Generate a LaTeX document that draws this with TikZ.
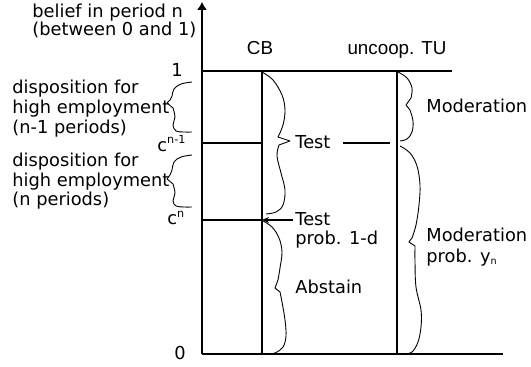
\documentclass[tikz,border=0pt]{standalone}
\usepackage{fontspec}
\setmainfont{DejaVu Sans}
\newfontfamily\headfont{Liberation Sans}
\usetikzlibrary{arrows.meta}
\newcommand{\supsm}[1]{\textsuperscript{\fontsize{5.6}{6}\selectfont #1}}
\newcommand{\subsm}[1]{\textsubscript{\fontsize{4.8}{5}\selectfont #1}}

\begin{document}
    \begin{tikzpicture}[x=.5pt, y=-.5pt,
            every node/.style={inner sep=0pt, font=\fontsize{8.9}{10}\selectfont},
            head/.style={font=\headfont\fontsize{9.4}{11}\selectfont},
            txt/.style={anchor=base west},
            axisline/.style={line width=.6pt},
            bracepath/.style={line width=.45pt, line join=round}]
        \useasboundingbox (0,0) rectangle (531,367);

        \begin{scope}
            \coordinate (o) at (202,354);
            \coordinate (top) at (202,2);
            \coordinate (one) at (202,71);
            \coordinate (cnm) at (202,143);
            \coordinate (cn) at (202,220);
            \coordinate (oneR) at (452,71);
            \coordinate (oR) at (503,354);
            \coordinate (cbT) at (262,71);
            \coordinate (cbB) at (262,354);
            \coordinate (tuT) at (397,71);
            \coordinate (tuB) at (397,354);

            \draw[axisline, -{Latex[length=4pt,width=5pt]}] (o) -- (top);
            \draw[axisline] (o) -- (oR);
            \draw[axisline] (one) -- (oneR);
            \draw[axisline] (cbT) -- (cbB);
            \draw[axisline] (tuT) -- (tuB);
            \draw[axisline] (cnm) -- (cnm -| cbT);
            \draw[axisline] (cn) -- (cn -| cbT);

            \node[txt] (belief) at (32,17.5) {belief in period n};
            \node[txt] (between) at (32,36) {(between 0 and 1)};
            \node[txt] (dispa) at (12,93.5) {disposition for};
            \node[txt] (higha) at (12,113.5) {high employment};
            \node[txt] (perna) at (12,133.5) {(n-1 periods)};
            \node[txt] (dispb) at (12,166.5) {disposition for};
            \node[txt] (highb) at (12,186.5) {high employment};
            \node[txt] (pernb) at (12,206) {(n periods)};

            \node[anchor=base] (lone) at (177,77) {1};
            \node[txt] (lcnm) at (157,151.5) {c\supsm{n-1}};
            \node[txt] (lcn) at (167,225) {c\supsm{n}};
            \node[anchor=base] (lzero) at (180,360) {0};

            \node[head, anchor=base] (cb) at (260,55) {CB};
            \node[head, anchor=base] (tu) at (397,55) {uncoop. TU};

            \node[txt] (testa) at (295,149) {Test};
            \node[txt] (testb) at (295,225.5) {Test};
            \node[txt] (probd) at (295,245) {prob. 1-d};
            \node[txt] (abstain) at (295,293.5) {Abstain};
            \node[txt] (moda) at (426,112.5) {Moderation};
            \node[txt] (modb) at (426,242) {Moderation};
            \node[txt] (proby) at (426,263) {prob. y\subsm{n}};

            \coordinate (tua) at (390,143);
            \draw[axisline] ([xshift=6pt]testa.east |- tua) -- (tua);
            \draw[axisline, -{Stealth[length=3.5pt,width=3pt]}] ([xshift=-1pt]testb.west |- cn) -- (cn -| cbT);

            \draw[bracepath] plot[smooth, tension=.6] coordinates {(192,82) (181,84) (174,89) (172,96) (170,100)} -- (167,103) -- plot[smooth, tension=.6] coordinates {(173,108) (175,117) (173,125) (176,131) (184,132) (192,132)};
            \draw[bracepath] plot[smooth, tension=.6] coordinates {(192,155) (181,157) (174,162) (172,170) (170,175)} -- (167,179) -- plot[smooth, tension=.6] coordinates {(173,184) (175,193) (173,201) (176,206) (184,207) (192,207)};
            \draw[bracepath] plot[smooth, tension=.6] coordinates {(262,72) (273,80) (282,95) (285,110) (283,125) (278,137)} -- (290,141) -- plot[smooth, tension=.6] coordinates {(279,145) (277,156) (281,173) (285,190) (283,205) (276,212) (266,214)};
            \draw[bracepath] plot[smooth, tension=.6] coordinates {(263,221) (272,227) (279,238) (282,252) (280,268) (278,280)} -- (275,288) -- plot[smooth, tension=.6] coordinates {(280,292) (282,302) (285,320) (286,336) (283,347) (275,353) (266,354)};
            \draw[bracepath] plot[smooth, tension=.6] coordinates {(398,72) (407,78) (412,88) (411,98)} -- (406,105) -- plot[smooth, tension=.6] coordinates {(410,110) (413,121) (412,132) (407,139) (400,141)};
            \draw[bracepath] plot[smooth, tension=.6] coordinates {(400,146) (410,153) (417,166) (420,185) (419,205) (416,225) (412,238)} -- (409,242) -- plot[smooth, tension=.6] coordinates {(415,246) (415,262) (416,287) (421,310) (421,327) (418,342) (412,352) (404,354)};
        \end{scope}
    \end{tikzpicture}
\end{document}
